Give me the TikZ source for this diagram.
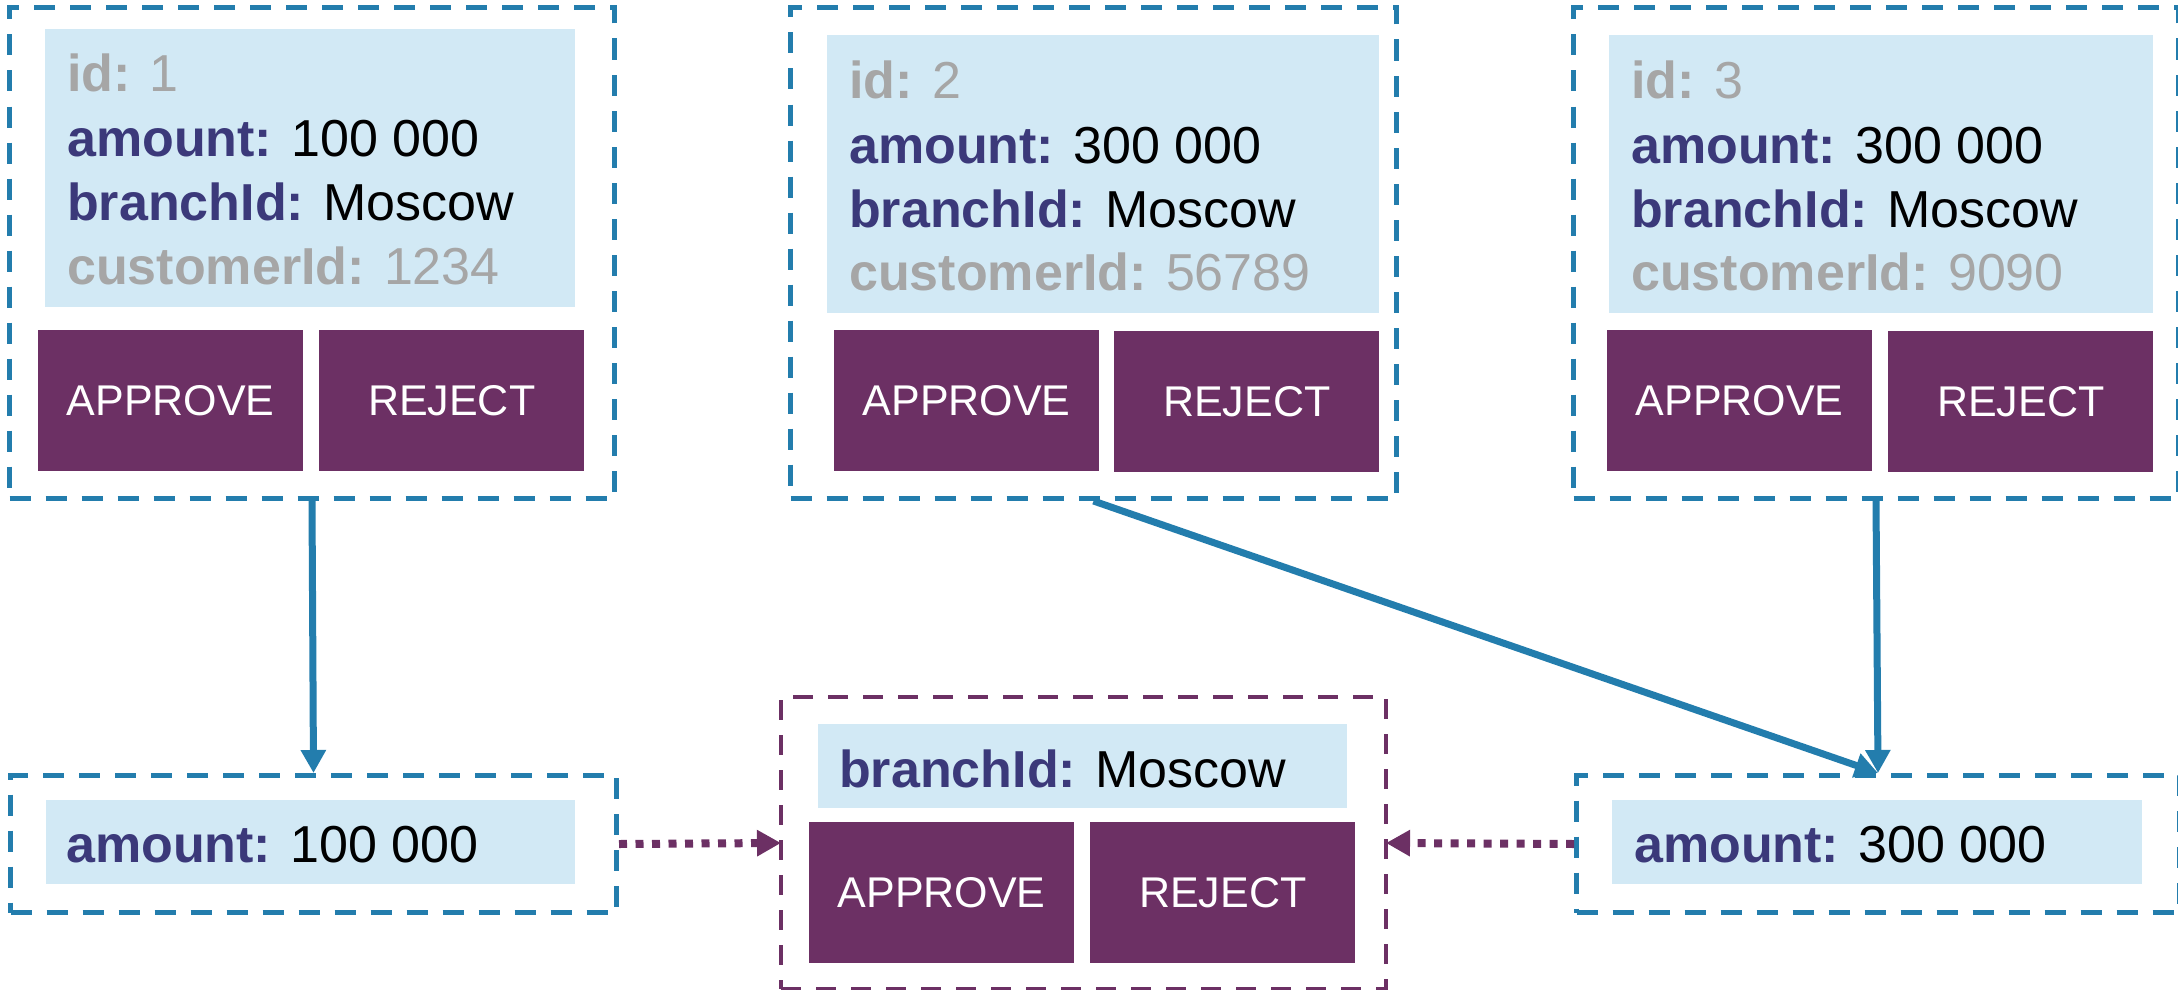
\documentclass[tikz,border=0pt]{standalone}
\usepackage{fontspec}
\setmainfont{Liberation Sans}
\usetikzlibrary{arrows.meta}

\definecolor{edgeblue}{RGB}{35,125,173}
\definecolor{fieldbg}{RGB}{210,233,245}
\definecolor{plum}{RGB}{108,48,100}
\definecolor{keyblue}{RGB}{59,57,122}
\definecolor{mutedgray}{RGB}{166,166,166}

% key/value line: bold coloured key, plain value
\newcommand\kv[2]{{\bfseries\color{keyblue}#1:} #2}
\newcommand\kvmuted[2]{{\color{mutedgray}{\bfseries#1:} #2}}

\tikzset{
  frame/.style={draw=edgeblue, line width=5pt, dash pattern=on 21pt off 15pt,
    inner sep=0pt, anchor=north west},
  pframe/.style={frame, draw=plum, line width=4pt, dash pattern=on 20pt off 15pt},
  fieldbox/.style={fill=fieldbg, inner sep=0pt, anchor=north west},
  fieldtext/.style={inner sep=0pt, anchor=base west, font=\fontsize{52}{60}\selectfont},
  btn/.style={fill=plum, text=white, inner sep=0pt, anchor=north west,
    minimum width=265pt, minimum height=141pt, font=\fontsize{43}{50}\selectfont},
  flow/.style={draw=edgeblue, line width=7pt, -{Triangle[length=23pt,width=24pt]}},
  hand/.style={draw=plum, line width=8pt, dash pattern=on 8pt off 8.5pt,
    -{Triangle[length=24pt,width=25pt]}, shorten >=-2pt},
}

\begin{document}
\begin{tikzpicture}[x=1pt,y=-1pt]
\useasboundingbox (0,0) rectangle (2178,990);

% ---- request 1 ----
\node[frame, minimum width=605pt, minimum height=491pt] (b1) at (7,5) {};
\node[fieldbox, minimum width=530pt, minimum height=278pt] (f1) at (45,29) {};
\node[fieldtext] (id1) at (67,92)  {\kvmuted{id}{1}};
\node[fieldtext] (am1) at (67,156) {\kv{amount}{100 000}};
\node[fieldtext] (br1) at (67,220) {\kv{branchId}{Moscow}};
\node[fieldtext] (cu1) at (67,284) {\kvmuted{customerId}{1234}};
\node[btn] (ap1) at (38,330)  {APPROVE};
\node[btn] (rj1) at (319,330) {REJECT};

% ---- request 2 ----
\node[frame, minimum width=606pt, minimum height=491pt] (b2) at (788,5) {};
\node[fieldbox, minimum width=552pt, minimum height=278pt] (f2) at (827,35) {};
\node[fieldtext] (id2) at (849,98)  {\kvmuted{id}{2}};
\node[fieldtext] (am2) at (849,163) {\kv{amount}{300 000}};
\node[fieldtext] (br2) at (849,227) {\kv{branchId}{Moscow}};
\node[fieldtext] (cu2) at (849,290) {\kvmuted{customerId}{56789}};
\node[btn] (ap2) at (834,330)  {APPROVE};
\node[btn] (rj2) at (1114,331) {REJECT};

% ---- request 3 ----
\node[frame, minimum width=605pt, minimum height=491pt] (b3) at (1571,5) {};
\node[fieldbox, minimum width=544pt, minimum height=278pt] (f3) at (1609,35) {};
\node[fieldtext] (id3) at (1631,98)  {\kvmuted{id}{3}};
\node[fieldtext] (am3) at (1631,163) {\kv{amount}{300 000}};
\node[fieldtext] (br3) at (1631,227) {\kv{branchId}{Moscow}};
\node[fieldtext] (cu3) at (1631,290) {\kvmuted{customerId}{9090}};
\node[btn] (ap3) at (1607,330) {APPROVE};
\node[btn] (rj3) at (1888,331) {REJECT};

% ---- amount groups ----
\node[frame, minimum width=606pt, minimum height=137pt] (g1) at (8,773) {};
\node[fieldbox, minimum width=529pt, minimum height=84pt] (gf1) at (46,800) {};
\node[fieldtext] (ga1) at (66,862) {\kv{amount}{100 000}};

\node[frame, minimum width=603pt, minimum height=137pt] (g2) at (1574,773) {};
\node[fieldbox, minimum width=530pt, minimum height=84pt] (gf2) at (1612,800) {};
\node[fieldtext] (ga2) at (1634,862) {\kv{amount}{300 000}};

% ---- branch group ----
\node[pframe, minimum width=605pt, minimum height=292pt] (br) at (779,695) {};
\node[fieldbox, minimum width=529pt, minimum height=84pt] (bf) at (818,724) {};
\node[fieldtext] (bt) at (839,787) {\kv{branchId}{Moscow}};
\node[btn] (apb) at (809,822)  {APPROVE};
\node[btn] (rjb) at (1090,822) {REJECT};

% ---- connectors ----
\draw[flow] (b1.south) -- (g1.north);
\draw[flow] (b2.south) -- (g2.north);
\draw[flow] (b3.south) -- (g2.north);
\draw[hand] (g1.east) -- (br.west);
\draw[hand] (g2.west) -- (br.east);
\end{tikzpicture}
\end{document}
